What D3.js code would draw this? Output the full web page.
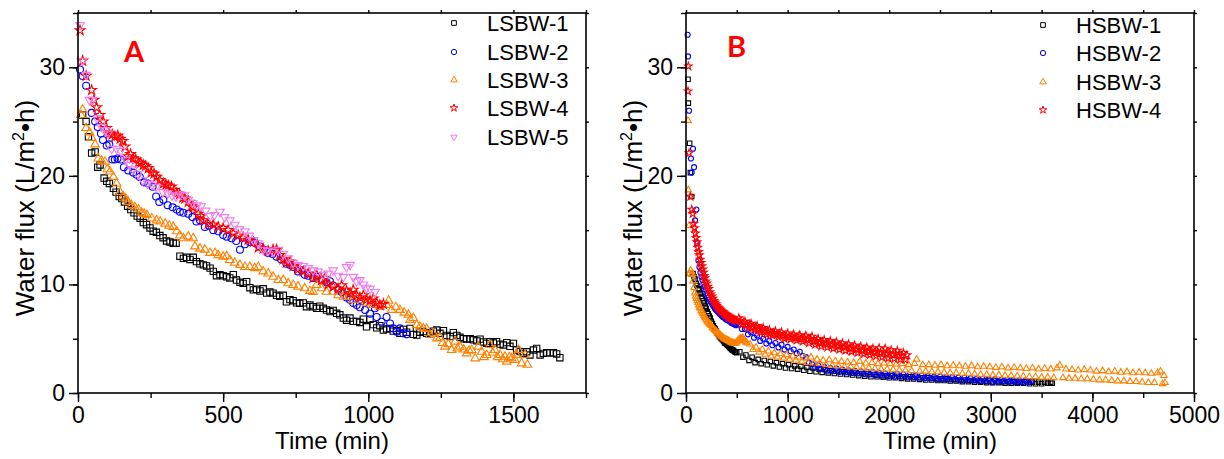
<!DOCTYPE html>
<html lang="en">
<head>
<meta charset="UTF-8">
<script src="https://d3js.org/d3.v7.min.js"></script>
<style>
  body { margin: 0; background: #fff; }
  svg { display: block; font-family: "Liberation Sans", Arial, sans-serif; }
</style>
</head>
<body>
<svg width="1224" height="459"></svg>
<script>
// ---- panel A data: [time (min), water flux (L/m2.h)] ----
const namesA = ["LSBW-1", "LSBW-2", "LSBW-3", "LSBW-4", "LSBW-5"];
const lsbw1 = [[16,25.6],[28,25.0],[36,23.6],[47,22.1],[59,22.2],[68,20.8],[76,21.0],[90,19.8],[99,19.5],[108,19.3],[122,18.85],[131,18.5],[142,18.1],[151,17.9],[160,17.6],[171,17.2],[182,16.9],[193,16.6],[204,16.3],[214,16.1],[225,15.7],[236,15.5],[248,15.2],[259,14.9],[270,14.8],[282,14.5],[293,14.3],[305,14.0],[317,13.9],[328,13.8],[338,13.8],[351,12.6],[363,12.4],[374,12.5],[386,12.3],[397,12.5],[408,12.1],[420,11.9],[432,11.8],[443,11.7],[455,11.5],[466,11.2],[477,10.8],[489,10.9],[500,10.8],[512,10.7],[523,10.6],[535,10.9],[546,10.4],[558,10.2],[569,10.1],[581,10.25],[592,9.7],[604,9.5],[615,9.55],[627,9.4],[638,9.6],[650,9.2],[661,9.3],[672,9.2],[684,9.0],[695,8.9],[707,9.0],[718,8.4],[730,8.6],[741,8.5],[753,8.3],[764,8.26],[776,8.3],[787,7.95],[799,8.1],[810,7.95],[822,7.8],[833,8.0],[845,7.8],[856,7.64],[868,7.5],[879,7.6],[891,7.34],[902,7.2],[914,6.9],[925,6.7],[937,6.9],[948,6.6],[960,6.6],[971,6.5],[983,6.8],[994,6.1],[1006,6.8],[1017,6.3],[1029,6.0],[1040,6.2],[1052,5.8],[1063,5.9],[1075,5.95],[1086,5.7],[1098,5.75],[1109,5.5],[1121,5.86],[1132,5.6],[1144,5.95],[1155,5.4],[1167,5.34],[1178,5.6],[1190,5.65],[1201,5.5],[1213,5.56],[1224,5.7],[1236,5.8],[1247,5.5],[1259,5.74],[1270,5.3],[1282,5.2],[1293,5.56],[1305,5.3],[1316,5.13],[1328,5.0],[1339,4.96],[1351,5.0],[1362,4.9],[1374,4.8],[1385,4.96],[1397,4.7],[1408,4.57],[1419,4.73],[1431,4.6],[1442,4.73],[1454,4.5],[1465,4.42],[1477,4.64],[1488,4.3],[1500,4.57],[1511,3.96],[1523,3.81],[1534,3.65],[1546,3.8],[1557,3.5],[1569,3.96],[1580,4.1],[1592,3.5],[1603,3.65],[1615,3.7],[1626,3.7],[1638,3.7],[1649,3.6],[1660,3.25]];
const lsbw2 = [[7,29.8],[16,29.2],[28,28.3],[47,25.8],[59,25.0],[68,24.5],[79,23.9],[86,23.3],[99,22.8],[108,22.9],[118,21.5],[127,21.5],[136,21.6],[147,21.5],[158,20.8],[173,20.5],[190,20.3],[202,20.1],[213,19.9],[227,19.4],[242,19.3],[257,19.0],[269,18.1],[280,17.6],[294,17.8],[309,17.3],[326,17.1],[340,16.9],[351,16.7],[363,16.6],[380,16.5],[394,16.2],[408,15.8],[420,15.9],[437,15.3],[452,15.4],[466,15.0],[483,14.9],[500,14.55],[512,14.4],[529,14.25],[545,14.0],[558,13.2],[575,13.7],[592,13.9],[609,13.85],[626,13.5],[640,13.2],[655,12.9],[670,12.8],[684,12.56],[700,12.3],[718,11.9],[730,11.8],[741,11.6],[758,11.2],[770,11.3],[781,10.9],[793,10.8],[810,10.6],[822,10.7],[839,10.4],[856,10.2],[868,10.3],[879,9.9],[896,9.5],[908,9.3],[925,8.8],[937,8.6],[948,8.3],[960,8.1],[971,7.9],[989,7.65],[1006,7.3],[1023,7.8],[1029,7.0],[1046,6.57],[1063,7.0],[1075,6.4],[1086,5.95],[1098,5.65],[1109,5.95],[1120,5.5],[1132,5.4]];
const lsbw3 = [[10,25.6],[16,26.1],[28,24.4],[40,24.0],[47,23.5],[59,22.9],[70,21.6],[81,21.4],[93,21.3],[101,20.6],[110,20.4],[122,19.9],[133,19.3],[145,18.5],[156,18.1],[165,17.9],[173,17.6],[184,17.3],[196,17.1],[208,16.9],[219,16.6],[228,16.5],[237,16.4],[254,16.1],[271,15.9],[283,15.8],[300,15.6],[314,15.4],[328,15.3],[340,14.9],[351,14.5],[363,14.25],[380,14.4],[397,14.25],[403,13.5],[420,13.3],[437,13.2],[455,12.9],[472,12.9],[483,12.7],[500,12.56],[512,12.6],[523,12.25],[540,12.0],[558,11.8],[575,11.6],[592,11.6],[609,11.5],[621,11.6],[638,11.2],[655,11.0],[672,10.7],[690,10.4],[707,10.4],[724,10.1],[741,9.95],[758,9.8],[781,9.64],[799,9.4],[810,9.3],[822,9.95],[839,9.64],[856,9.33],[879,9.33],[896,9.0],[914,8.87],[931,8.87],[948,8.57],[971,8.57],[994,8.26],[1017,8.1],[1040,7.95],[1063,8.1],[1070,8.5],[1080,7.65],[1095,7.9],[1109,7.65],[1124,7.4],[1138,7.2],[1144,6.73],[1155,6.9],[1167,6.26],[1178,6.1],[1190,5.95],[1201,5.9],[1213,5.34],[1224,5.5],[1236,5.03],[1247,5.1],[1256,4.6],[1264,4.27],[1276,4.5],[1287,3.96],[1299,4.73],[1307,4.1],[1316,4.27],[1328,4.0],[1339,3.65],[1347,3.9],[1356,3.96],[1368,3.19],[1379,4.27],[1391,3.8],[1399,3.3],[1408,3.5],[1419,4.42],[1428,3.7],[1436,3.96],[1445,3.3],[1454,3.5],[1463,3.1],[1471,3.35],[1477,2.89],[1486,3.3],[1494,3.19],[1505,3.04],[1511,3.5],[1517,3.96],[1528,2.73],[1540,3.5],[1548,2.6]];
const lsbw4 = [[7,33.4],[16,30.6],[28,29.2],[47,27.9],[55,27.0],[64,26.3],[75,25.6],[87,25.0],[98,24.4],[108,23.9],[118,23.8],[127,23.6],[137,23.7],[145,23.4],[154,23.2],[162,22.7],[173,21.8],[181,22.0],[190,21.6],[199,21.5],[208,21.2],[216,21.2],[225,21.0],[233,20.9],[242,20.7],[252,20.3],[262,20.2],[271,19.9],[282,19.6],[294,19.3],[303,19.2],[311,19.1],[322,19.0],[331,18.7],[340,18.4],[350,18.3],[361,18.0],[368,17.9],[380,17.6],[391,17.2],[397,17.1],[414,16.5],[423,16.3],[432,15.9],[449,15.6],[466,15.5],[483,15.3],[500,15.2],[517,15.0],[535,14.7],[552,14.5],[569,14.3],[586,14.1],[604,13.9],[621,13.4],[638,13.3],[655,13.1],[672,13.2],[684,13.2],[695,12.7],[707,12.3],[718,12.0],[730,12.1],[741,11.7],[758,11.4],[776,11.2],[793,11.0],[810,10.6],[822,10.9],[839,10.4],[850,10.6],[862,10.0],[879,9.8],[896,9.6],[908,9.9],[925,9.4],[937,9.2],[948,9.5],[960,9.0],[971,8.8],[983,9.0],[994,8.6],[1006,8.5],[1017,8.7],[1029,8.3],[1040,8.1],[1052,8.2]];
const lsbw5 = [[7,33.9],[16,30.6],[28,29.3],[39,27.0],[50,27.0],[66,25.3],[81,24.5],[95,24.2],[104,23.9],[116,22.5],[133,22.5],[147,22.3],[164,21.5],[177,21.0],[190,20.6],[206,20.2],[223,19.6],[240,19.3],[255,19.2],[269,19.0],[292,18.5],[309,18.4],[324,18.2],[338,18.1],[352,18.3],[367,18.2],[380,17.8],[395,17.5],[410,17.3],[424,17.2],[440,16.8],[455,16.3],[470,16.4],[489,16.7],[505,16.2],[523,15.9],[540,15.5],[556,15.1],[575,14.9],[590,14.5],[604,14.1],[621,13.8],[638,13.2],[655,13.1],[672,13.0],[690,13.2],[707,12.8],[724,12.4],[741,12.0],[758,11.8],[776,11.7],[793,11.5],[810,11.3],[827,11.2],[845,10.9],[862,11.0],[879,11.3],[896,10.8],[914,10.7],[925,11.6],[937,11.8],[948,10.7],[960,10.3],[971,10.4],[983,10.0],[994,9.7],[1006,9.6],[1023,9.3]];

// ---- panel B data ----
const namesB = ["HSBW-1", "HSBW-2", "HSBW-3", "HSBW-4"];
const hsbw1 = [[20,28.9],[23,26.7],[36,23.0],[43,20.3],[56,18.1],[69,11.0],[79,10.7],[89,10.5],[99,10.1],[109,9.9],[119,9.6],[129,9.5],[139,9.2],[149,8.9],[159,8.7],[169,8.5],[179,8.3],[189,8.0],[199,7.8],[209,7.5],[219,7.3],[229,7.1],[239,6.9],[249,6.6],[259,6.4],[269,6.2],[279,6.0],[289,5.9],[299,5.7],[309,5.5],[319,5.4],[329,5.2],[339,5.1],[349,5.0],[359,4.9],[369,4.8],[379,4.6],[389,4.6],[399,4.5],[409,4.4],[419,4.3],[429,4.2],[439,4.1],[449,4.0],[459,3.95],[469,3.9],[479,3.8],[489,3.75],[499,3.7],[530,3.8],[560,3.3],[590,3.5],[620,3.0],[650,3.3],[680,2.8],[710,3.1],[740,2.7],[770,3.0],[800,2.6],[830,2.9],[860,2.5],[890,2.8],[920,2.4],[950,2.7],[980,2.3],[1010,2.6],[1040,2.25],[1070,2.5],[1100,2.2],[1130,2.45],[1160,2.1],[1190,2.35],[1220,2.0],[1250,2.3],[1280,1.95],[1310,2.2],[1340,1.9],[1370,2.15],[1400,1.85],[1430,2.05],[1460,1.8],[1490,2.0],[1520,1.75],[1550,1.95],[1580,1.7],[1610,1.9],[1640,1.65],[1670,1.85],[1700,1.6],[1730,1.8],[1760,1.55],[1790,1.75],[1820,1.5],[1850,1.7],[1880,1.5],[1910,1.65],[1940,1.45],[1970,1.6],[2000,1.4],[2030,1.6],[2060,1.4],[2090,1.55],[2120,1.35],[2150,1.5],[2180,1.3],[2210,1.5],[2240,1.3],[2270,1.45],[2300,1.25],[2330,1.4],[2360,1.2],[2390,1.4],[2420,1.2],[2450,1.35],[2480,1.15],[2510,1.3],[2540,1.15],[2570,1.3],[2600,1.1],[2630,1.25],[2660,1.1],[2690,1.2],[2720,1.05],[2750,1.2],[2780,1.05],[2810,1.15],[2840,1.0],[2870,1.15],[2900,1.0],[2930,1.1],[2960,0.95],[2990,1.1],[3020,0.95],[3050,1.1],[3080,0.95],[3110,1.05],[3140,0.9],[3170,1.05],[3200,0.9],[3230,1.05],[3260,0.9],[3290,1.0],[3320,0.9],[3350,1.05],[3380,0.85],[3410,1.0],[3440,0.85],[3470,1.0],[3500,0.85],[3530,1.0],[3560,0.9],[3590,1.0],[3605,0.9]];
const hsbw2 = [[16,33.0],[20,31.0],[30,26.0],[49,21.6],[56,20.3],[69,22.5],[79,20.8],[89,15.9],[102,16.9],[112,13.8],[122,12.2],[132,11.6],[142,11.1],[152,10.7],[162,10.4],[172,10.0],[182,9.8],[192,9.5],[202,9.2],[212,9.0],[222,8.8],[232,8.6],[242,8.4],[252,8.3],[262,8.1],[272,8.0],[282,7.8],[292,7.7],[302,7.6],[312,7.5],[322,7.4],[332,7.3],[342,7.2],[352,7.1],[362,7.0],[372,6.95],[382,6.9],[392,6.8],[402,6.75],[412,6.7],[422,6.65],[432,6.6],[442,6.5],[452,6.45],[462,6.4],[472,6.35],[482,6.3],[492,6.25],[520,6.3],[550,5.9],[580,5.9],[610,5.4],[640,5.6],[670,5.1],[700,5.3],[730,4.8],[760,5.0],[790,4.55],[820,4.8],[850,4.4],[880,4.6],[910,4.2],[940,4.45],[970,4.0],[1000,4.25],[1030,3.85],[1060,4.0],[1090,3.65],[1120,3.8],[1150,3.4],[1180,3.3],[1210,2.8],[1240,2.65],[1270,2.4],[1300,2.55],[1330,2.2],[1360,2.4],[1390,2.05],[1420,2.3],[1450,2.0],[1480,2.25],[1510,1.95],[1540,2.15],[1570,1.9],[1600,2.1],[1630,1.85],[1660,2.05],[1690,1.8],[1720,2.0],[1750,1.75],[1780,1.95],[1810,1.7],[1840,1.9],[1870,1.65],[1900,1.85],[1930,1.6],[1960,1.8],[1990,1.55],[2020,1.75],[2050,1.5],[2080,1.75],[2110,1.5],[2140,1.7],[2170,1.45],[2200,1.65],[2230,1.45],[2260,1.6],[2290,1.4],[2320,1.6],[2350,1.35],[2380,1.55],[2410,1.35],[2440,1.5],[2470,1.3],[2500,1.5],[2530,1.3],[2560,1.45],[2590,1.25],[2620,1.45],[2650,1.25],[2680,1.4],[2710,1.2],[2740,1.4],[2770,1.2],[2800,1.35],[2830,1.15],[2860,1.3],[2890,1.1],[2920,1.3],[2950,1.1],[2980,1.25],[3010,1.0],[3040,1.25],[3070,1.05],[3100,1.2],[3130,1.05],[3160,1.2],[3190,1.05],[3220,1.15],[3250,1.0],[3280,1.15],[3310,1.0],[3340,1.15],[3370,1.0],[3400,1.1]];
const hsbw3 = [[20,25.1],[23,18.7],[30,15.4],[36,11.0],[46,11.3],[56,10.9],[62,11.0],[70,10.3],[78,9.7],[86,9.2],[94,8.9],[102,8.7],[110,8.5],[118,8.3],[126,8.1],[134,7.9],[142,7.8],[151,7.6],[159,7.45],[167,7.3],[175,7.15],[184,7.0],[192,6.9],[200,6.75],[210,6.6],[220,6.5],[230,6.4],[240,6.3],[250,6.2],[260,6.05],[270,5.95],[280,5.85],[290,5.75],[300,5.65],[310,5.55],[320,5.5],[330,5.4],[340,5.3],[350,5.2],[360,5.15],[370,5.05],[380,5.0],[390,4.95],[400,4.9],[410,4.85],[420,4.8],[430,4.75],[440,4.7],[450,4.65],[460,4.6],[470,4.6],[480,4.55],[490,4.6],[500,4.7],[510,4.8],[520,4.9],[530,5.0],[540,5.05],[550,5.0],[560,5.1],[570,4.9],[580,4.8],[590,4.7],[600,4.6],[630,4.5],[660,4.0],[690,4.2],[720,3.75],[750,4.0],[780,3.55],[810,3.85],[840,3.4],[870,3.7],[900,3.3],[930,3.6],[960,3.2],[990,3.5],[1020,3.1],[1050,3.4],[1080,3.0],[1110,3.3],[1140,2.9],[1170,3.25],[1200,2.8],[1230,3.3],[1260,2.75],[1290,3.1],[1320,2.7],[1350,3.0],[1380,2.6],[1410,3.05],[1440,2.55],[1470,2.95],[1500,2.5],[1530,2.9],[1560,2.45],[1590,2.85],[1620,2.4],[1650,2.8],[1680,2.35],[1710,2.9],[1740,2.3],[1770,2.75],[1800,2.3],[1830,2.8],[1860,2.25],[1890,2.7],[1920,2.2],[1950,2.75],[1980,2.2],[2010,2.7],[2040,2.15],[2070,2.65],[2100,2.1],[2130,2.7],[2160,2.1],[2190,2.6],[2220,2.05],[2250,2.7],[2270,3.1],[2300,2.0],[2330,2.6],[2360,2.0],[2390,2.6],[2420,1.95],[2450,2.55],[2480,1.95],[2510,2.6],[2540,1.9],[2570,2.5],[2600,1.85],[2630,2.55],[2660,1.85],[2690,2.5],[2720,1.8],[2750,2.45],[2780,1.8],[2810,2.5],[2840,1.75],[2870,2.4],[2900,1.7],[2930,2.45],[2960,1.7],[2990,2.4],[3020,1.65],[3050,2.35],[3080,1.65],[3110,2.4],[3140,1.6],[3170,2.3],[3200,1.6],[3230,2.35],[3260,1.55],[3290,2.3],[3320,1.55],[3350,2.25],[3380,1.5],[3410,2.3],[3440,1.5],[3470,2.2],[3500,1.45],[3530,2.25],[3560,1.45],[3590,2.2],[3620,1.4],[3650,2.3],[3680,2.55],[3710,1.4],[3740,2.2],[3770,1.35],[3800,2.15],[3830,1.35],[3860,2.1],[3890,1.3],[3920,2.15],[3950,1.3],[3980,2.1],[4010,1.25],[4040,2.0],[4070,1.2],[4100,2.05],[4130,1.2],[4160,1.95],[4190,1.15],[4220,2.0],[4250,1.1],[4280,1.9],[4310,1.1],[4340,1.95],[4370,1.05],[4400,1.85],[4430,1.05],[4460,1.9],[4490,1.0],[4520,1.85],[4550,0.95],[4580,1.8],[4610,0.95],[4640,1.85],[4670,2.0],[4690,0.85],[4705,1.6],[4715,0.95]];
const hsbw4 = [[20,27.8],[23,30.1],[30,22.1],[43,18.1],[56,16.9],[66,16.5],[76,15.6],[84,15.2],[92,14.7],[100,14.3],[108,13.9],[116,13.4],[124,13.0],[132,12.7],[140,12.3],[148,12.0],[156,11.7],[164,11.4],[172,11.1],[180,10.8],[188,10.6],[196,10.3],[204,10.1],[214,9.8],[224,9.6],[234,9.3],[244,9.1],[254,8.9],[264,8.7],[274,8.5],[284,8.35],[294,8.2],[304,8.05],[314,7.9],[324,7.8],[334,7.7],[344,7.6],[354,7.5],[364,7.45],[374,7.35],[384,7.3],[394,7.2],[404,7.15],[414,7.05],[424,7.0],[434,6.95],[444,6.9],[454,6.85],[464,6.8],[474,6.75],[484,6.7],[494,6.65],[520,6.9],[535,6.6],[550,6.3],[565,6.5],[580,6.6],[595,6.25],[610,6.0],[625,6.3],[640,6.4],[655,6.05],[670,5.8],[685,6.1],[700,6.2],[715,5.85],[730,5.6],[745,5.9],[760,6.0],[775,5.65],[790,5.4],[805,5.7],[820,5.8],[835,5.5],[850,5.3],[865,5.55],[880,5.7],[895,5.35],[910,5.15],[925,5.45],[940,5.6],[955,5.25],[970,5.0],[985,5.3],[1000,5.5],[1015,5.15],[1030,4.95],[1045,5.25],[1060,5.4],[1075,5.05],[1090,4.85],[1105,5.2],[1120,5.35],[1135,5.0],[1150,4.75],[1165,5.1],[1180,5.3],[1195,4.9],[1210,4.6],[1225,5.0],[1240,5.2],[1255,4.75],[1270,4.45],[1285,4.8],[1300,5.0],[1315,4.6],[1330,4.3],[1345,4.7],[1360,4.9],[1375,4.5],[1390,4.2],[1405,4.6],[1420,4.8],[1435,4.4],[1450,4.1],[1465,4.5],[1480,4.7],[1495,4.3],[1510,4.0],[1525,4.4],[1540,4.6],[1555,4.2],[1570,3.9],[1585,4.3],[1600,4.5],[1615,4.1],[1630,3.8],[1645,4.2],[1660,4.4],[1675,4.0],[1690,3.7],[1705,4.1],[1720,4.3],[1735,3.9],[1750,3.6],[1765,4.0],[1780,4.2],[1795,3.8],[1810,3.5],[1825,3.9],[1840,4.1],[1855,3.7],[1870,3.4],[1885,3.8],[1900,4.15],[1915,3.65],[1930,3.3],[1945,3.75],[1960,4.1],[1975,3.6],[1990,3.2],[2005,3.65],[2020,3.95],[2035,3.5],[2050,3.15],[2065,3.6],[2080,3.9],[2095,3.45],[2110,3.1],[2125,3.45],[2140,3.7],[2160,3.05],[2175,3.5]];

// ticks
const yMajor = [0, 10, 20, 30];
const xMajorA = [0, 500, 1000, 1500];
const xMajorB = [0, 1000, 2000, 3000, 4000, 5000];

const colors = ["#000000", "#0000ff", "#ff8000", "#ff0000", "#f07cf0"];
const shapes = [d3.symbolSquare, d3.symbolCircle, d3.symbolTriangle, d3.symbolStar, d3.symbolTriangle];
const flip = [false, false, false, false, true];

const svg = d3.select("svg");

function drawPanel(p) {
  const x = d3.scaleLinear().domain([0, p.xMax]).range([p.left, p.right]);
  const y = d3.scaleLinear().domain([0, 35]).range([393, 13]);
  const g = svg.append("g");

  // points
  p.series.forEach(function(data, i) {
    const sym = d3.symbol().type(shapes[i]).size(p.sizes[i]);
    g.append("g").selectAll("path")
      .data(data).enter().append("path")
      .attr("d", sym)
      .attr("transform", d => "translate(" + x(d[0]) + "," + y(d[1]) + ")" + (flip[i] ? " rotate(180)" : ""))
      .attr("fill", "none")
      .attr("stroke", colors[i])
      .attr("stroke-width", 1.1);
  });

  // minor ticks
  const xMinor = d3.range(0, p.xMax + 1, p.xMinorStep);
  const yMinor = d3.range(0, 36, 5);
  g.append("g").attr("transform", "translate(0,393)")
    .call(d3.axisBottom(x).tickValues(xMinor).tickSize(5).tickSizeOuter(0).tickFormat(""));
  g.append("g").attr("transform", "translate(" + p.left + ",0)")
    .call(d3.axisLeft(y).tickValues(yMinor).tickSize(5).tickSizeOuter(0).tickFormat(""));
  g.append("g").attr("transform", "translate(0,13)")
    .call(d3.axisTop(x).tickValues(xMinor).tickSize(3).tickSizeOuter(0).tickFormat(""));
  g.append("g").attr("transform", "translate(" + p.right + ",0)")
    .call(d3.axisRight(y).tickValues(yMinor).tickSize(3).tickSizeOuter(0).tickFormat(""));

  // major ticks + labels
  const xa = g.append("g").attr("transform", "translate(0,393)")
    .call(d3.axisBottom(x).tickValues(p.xMajor).tickSize(9).tickSizeOuter(0).tickPadding(5).tickFormat(d3.format("d")));
  const ya = g.append("g").attr("transform", "translate(" + p.left + ",0)")
    .call(d3.axisLeft(y).tickValues(yMajor).tickSize(9).tickSizeOuter(0).tickPadding(4).tickFormat(d3.format("d")));
  [xa, ya].forEach(a => a.selectAll("text").attr("font-size", 23).attr("fill", "#000")
    .attr("font-family", "'Liberation Sans', Arial, sans-serif"));

  g.selectAll(".tick line").attr("stroke", "#000").attr("stroke-width", 1.4);
  g.selectAll(".domain").remove();

  // frame
  g.append("rect").attr("x", p.left).attr("y", 13)
    .attr("width", p.right - p.left).attr("height", 380)
    .attr("fill", "none").attr("stroke", "#000").attr("stroke-width", 1.6);

  // axis titles
  g.append("text").attr("x", (p.left + p.right) / 2).attr("y", 449)
    .attr("text-anchor", "middle").attr("font-size", 24).text("Time (min)");
  const yt = g.append("text")
    .attr("transform", "translate(" + p.titleX + ",208) rotate(-90)")
    .attr("text-anchor", "middle").attr("font-size", 26);
  yt.append("tspan").text("Water flux (L/m");
  yt.append("tspan").attr("font-size", 16).attr("dy", -10).text("2");
  yt.append("tspan").attr("dy", 10).text("\u2022h)");

  // panel letter
  g.append("text").attr("x", p.letterX).attr("y", p.letterY)
    .attr("font-family", "Lato, 'Open Sans', sans-serif").attr("font-weight", 700)
    .attr("font-size", 29).attr("fill", "#ff0000").text(p.letter);

  // legend
  p.names.forEach(function(name, i) {
    const ly = p.legendY[i];
    g.append("path")
      .attr("d", d3.symbol().type(shapes[i]).size(p.legendSizes[i]))
      .attr("transform", "translate(" + p.legendX + "," + ly + ")" + (flip[i] ? " rotate(180)" : ""))
      .attr("fill", "none").attr("stroke", colors[i]).attr("stroke-width", 1);
    g.append("text").attr("x", p.legendX + 33).attr("y", ly).attr("dy", "0.36em")
      .attr("font-size", 22).text(name);
  });
}

drawPanel({
  left: 78, right: 586, xMax: 1750, xMinorStep: 250, xMajor: xMajorA,
  series: [lsbw1, lsbw2, lsbw3, lsbw4, lsbw5],
  sizes: [40, 38, 32, 30, 32],
  names: namesA, legendX: 454, legendY: [23, 52, 80, 108, 137],
  legendSizes: [22, 22, 18, 18, 18],
  titleX: 34, letter: "A", letterX: 124, letterY: 62
});
drawPanel({
  left: 686, right: 1194, xMax: 5000, xMinorStep: 500, xMajor: xMajorB,
  series: [hsbw1, hsbw2, hsbw3, hsbw4],
  sizes: [20, 20, 18, 18],
  names: namesB, legendX: 1043, legendY: [25, 53, 82, 110],
  legendSizes: [22, 22, 18, 18],
  titleX: 642, letter: "B", letterX: 727, letterY: 57
});
</script>
</body>
</html>
